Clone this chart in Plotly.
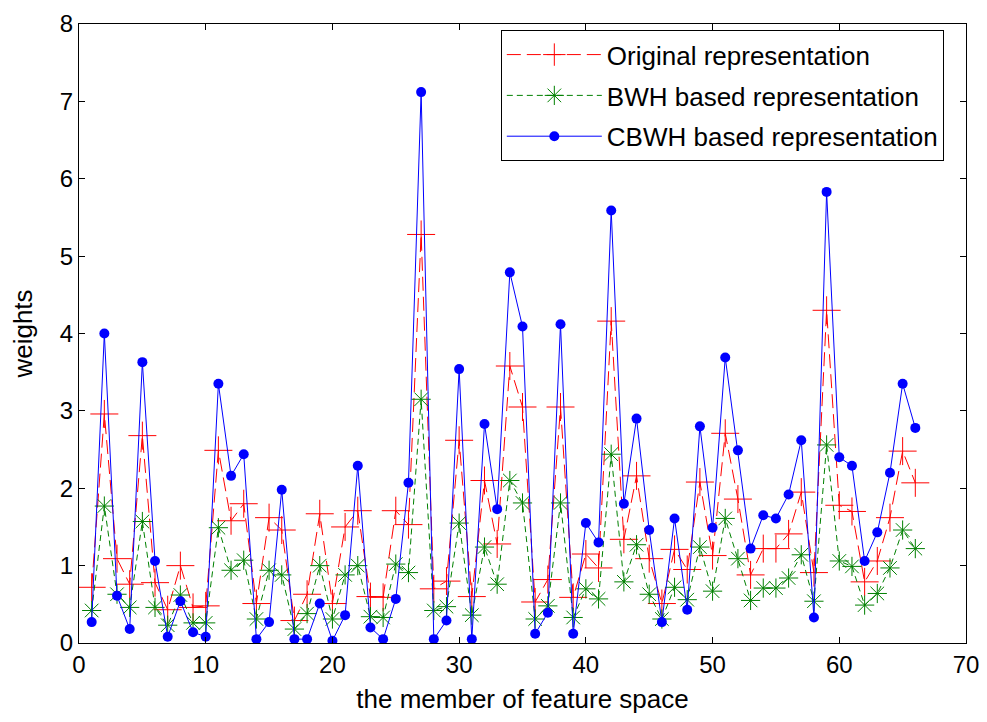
import plotly.graph_objects as go

x = list(range(1, 67))

original = [0.72, 2.96, 1.09, 0.76, 2.68, 0.78, 0.43, 1.00, 0.46, 0.48,
            2.49, 1.58, 1.80, 0.51, 1.62, 1.46, 0.29, 0.63, 1.67, 0.51,
            1.50, 1.71, 0.60, 0.59, 1.71, 1.53, 5.28, 0.70, 0.80, 2.62,
            0.60, 2.10, 1.28, 3.58, 3.05, 0.53, 0.82, 3.05, 0.59, 1.15,
            0.97, 4.16, 1.34, 2.16, 1.09, 0.51, 1.21, 0.95, 2.08, 1.13,
            2.71, 1.86, 0.88, 1.22, 1.22, 1.41, 1.95, 0.91, 4.30, 1.78,
            1.70, 0.79, 1.06, 1.62, 2.48, 2.07]

bwh = [0.42, 1.77, 0.63, 0.46, 1.57, 0.46, 0.23, 0.62, 0.26, 0.26,
       1.49, 0.94, 1.07, 0.31, 0.94, 0.88, 0.18, 0.38, 1.00, 0.31,
       0.88, 1.00, 0.34, 0.33, 1.02, 0.91, 3.15, 0.42, 0.47, 1.55,
       0.36, 1.24, 0.76, 2.10, 1.81, 0.31, 0.48, 1.81, 0.33, 0.70,
       0.57, 2.44, 0.79, 1.27, 0.63, 0.31, 0.72, 0.56, 1.24, 0.67,
       1.61, 1.09, 0.55, 0.71, 0.71, 0.84, 1.14, 0.54, 2.56, 1.06,
       0.99, 0.49, 0.64, 0.97, 1.46, 1.22]

cbwh = [0.27, 4.00, 0.61, 0.18, 3.63, 1.06, 0.08, 0.54, 0.14, 0.08,
        3.35, 2.16, 2.44, 0.05, 0.27, 1.98, 0.05, 0.05, 0.51, 0.03,
        0.36, 2.29, 0.20, 0.05, 0.57, 2.07, 7.12, 0.05, 0.29, 3.54,
        0.05, 2.83, 1.73, 4.79, 4.09, 0.12, 0.39, 4.12, 0.12, 1.55,
        1.30, 5.59, 1.80, 2.90, 1.46, 0.27, 1.61, 0.43, 2.80, 1.49,
        3.69, 2.49, 1.22, 1.65, 1.61, 1.92, 2.62, 0.33, 5.83, 2.40,
        2.29, 1.06, 1.43, 2.20, 3.35, 2.78]

names = ["Original representation", "BWH based representation", "CBWH based representation"]

FONT = "Liberation Sans, Arial, sans-serif"
FS = 26
TICK_FS = 24

fig = go.Figure()
fig.add_trace(go.Scatter(
    x=x, y=original, name=names[0], mode="lines+markers",
    line=dict(color="#FF0000", width=1, dash="14px,6px"),
    marker=dict(symbol="cross-thin-open", size=20, color="#FF0000",
                line=dict(color="#FF0000", width=1)),
    legendgroup="a"))
fig.add_trace(go.Scatter(
    x=x, y=bwh, name=names[1], mode="lines+markers",
    line=dict(color="#008000", width=1, dash="6px,4px"),
    marker=dict(symbol="asterisk-open", size=16, color="#008000",
                line=dict(color="#008000", width=1)),
    legendgroup="b"))
fig.add_trace(go.Scatter(
    x=x, y=cbwh, name=names[2], mode="lines+markers",
    line=dict(color="#0000FF", width=1),
    marker=dict(symbol="circle", size=10, color="#0000FF",
                line=dict(width=0)),
    legendgroup="c"))

axis_common = dict(
    showline=True, linecolor="black", linewidth=1, mirror="ticks",
    ticks="inside", ticklen=6, tickcolor="black", showgrid=False,
    zeroline=False, automargin=False, ticklabeloverflow="allow",
    tickfont=dict(family=FONT, size=TICK_FS, color="black"),
)

# page body has an 8px margin; size the figure so the plot lands where the reference has it
fig.update_layout(
    width=979, height=706,
    margin=dict(l=71, r=21, t=16, b=71),
    paper_bgcolor="white", plot_bgcolor="white",
    font=dict(family=FONT, size=FS, color="black"),
    xaxis=dict(range=[0, 70], dtick=10, tick0=0,
               title=dict(text="the member of feature space", font=dict(family=FONT, size=FS), standoff=16),
               **axis_common),
    yaxis=dict(range=[0, 8], dtick=1, tick0=0,
               title=dict(text="weights", font=dict(family=FONT, size=FS), standoff=20),
               **axis_common),
    legend=dict(x=0.975, y=0.99, xanchor="right", yanchor="top",
                bgcolor="white", bordercolor="black", borderwidth=1,
                font=dict(family=FONT, size=FS, color="black"),
                traceorder="grouped", tracegroupgap=4, itemwidth=95),
    showlegend=True,
)

fig.write_html("out.html")
